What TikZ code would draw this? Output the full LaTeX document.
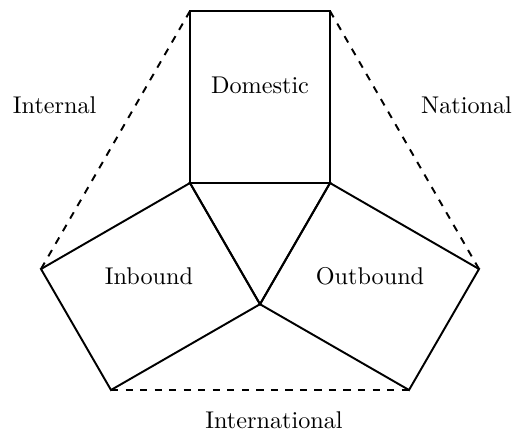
\documentclass[tikz,border=0pt]{standalone}
\begin{document}
\begin{tikzpicture}[x=0.413pt,y=-0.413pt,
  edge/.style={thick,line join=miter},
  link/.style={thick,dashed},
  lbl/.style={inner sep=0pt}]
\useasboundingbox (0,0) rectangle (517,432);
% central triangle
\coordinate (A) at (190,183);
\coordinate (B) at (330,183);
\coordinate (C) at (260,304.2);
% outer corners of the three rectangles
\coordinate (TA) at (190,11);
\coordinate (TB) at (330,11);
\coordinate (LA) at (41,269);
\coordinate (LC) at (111,390);
\coordinate (RB) at (479,269);
\coordinate (RC) at (409,390);
% rectangles and triangle
\draw[edge] (A) -- (TA) -- (TB) -- (B) -- cycle;
\draw[edge] (A) -- (LA) -- (LC) -- (C) -- cycle;
\draw[edge] (B) -- (RB) -- (RC) -- (C) -- cycle;
\draw[edge] (A) -- (B) -- (C) -- cycle;
% dashed links
\draw[link] (TA) -- (LA);
\draw[link] (TB) -- (RB);
\draw[link] (LC) -- (RC);
% labels
\node[lbl] (dom) at (260,85) {Domestic};
\node[lbl] (int) at (54.7,105) {Internal};
\node[lbl] (nat) at (466.5,105) {National};
\node[lbl] (inb) at (149,276) {Inbound};
\node[lbl] (outb) at (370,276) {Outbound};
\node[lbl] (intl) at (274,420.5) {International};
\end{tikzpicture}
\end{document}
